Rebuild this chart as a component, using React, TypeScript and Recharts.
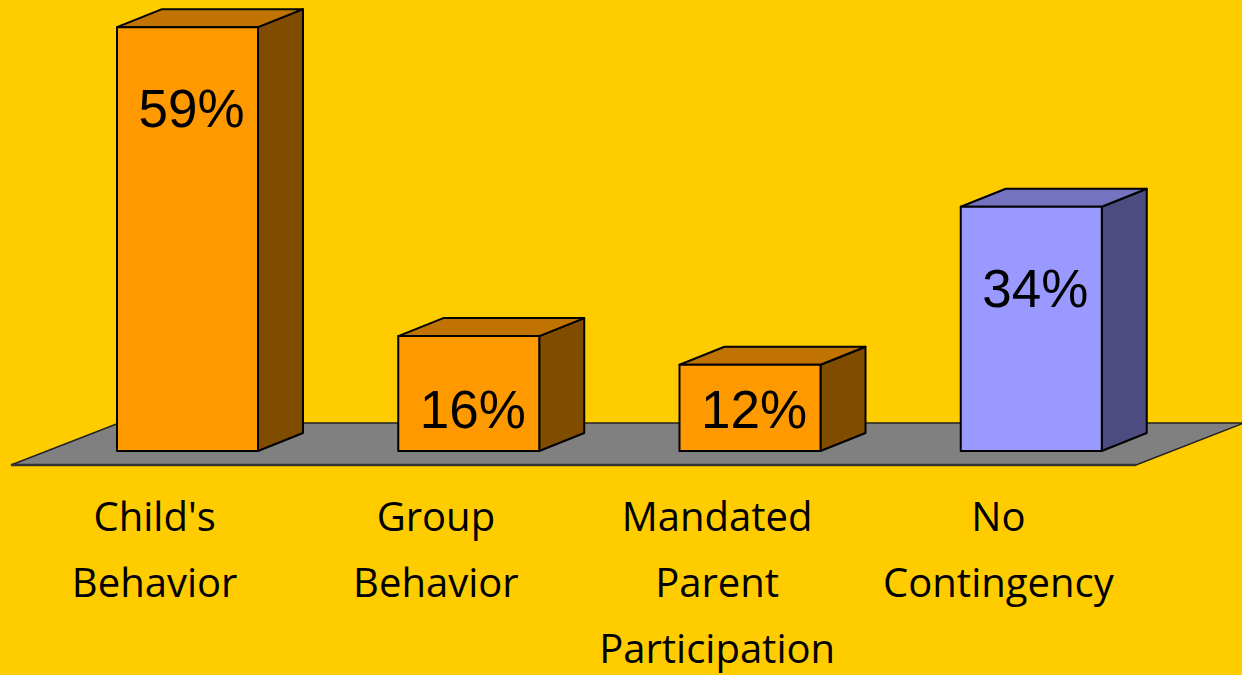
import { BarChart, Bar, XAxis, YAxis, Cell, LabelList, ReferenceLine } from "recharts"

const categories = ["Child's Behavior", "Group Behavior", "Mandated Parent Participation", "No Contingency"]
const percents = [59, 16, 12, 34]
const groups = ["tied", "tied", "tied", "none"]

const FACE: Record<string, { front: string; side: string; top: string }> = {
  tied: { front: "#FF9900", side: "#804C00", top: "#C07300" },
  none: { front: "#9999FF", side: "#4C4C80", top: "#7373BF" },
}

const DX = 45
const DY = 18

const chartData = categories.map((name, i) => ({ name, value: percents[i], group: groups[i] }))

function Box(props: any) {
  const { x, y, width: w, height: h, payload } = props
  const c = FACE[payload.group]
  const s = { stroke: "#000", strokeWidth: 2, strokeLinejoin: "round" as const }
  return (
    <g>
      <polygon
        points={`${x + w},${y} ${x + w + DX},${y - DY} ${x + w + DX},${y + h - DY} ${x + w},${y + h}`}
        fill={c.side} {...s}
      />
      <polygon
        points={`${x},${y} ${x + DX},${y - DY} ${x + w + DX},${y - DY} ${x + w},${y}`}
        fill={c.top} {...s}
      />
      <rect x={x} y={y} width={w} height={h} fill={c.front} {...s} />
    </g>
  )
}

function Floor(props: any) {
  const { x1, x2, y1 } = props
  const y = y1
  const pts = `${x1 - 36},${y + 14} ${x2 - 36},${y + 14} ${x2 + 72},${y - 28} ${x1 + 72},${y - 28}`
  return (
    <g>
      <polygon points={pts} fill="#808080" stroke="#222" strokeWidth={1.5} />
      <line x1={x1 - 36} y1={y + 14} x2={x2 - 36} y2={y + 14} stroke="#333" strokeWidth={2.5} />
    </g>
  )
}

function ValueLabel(props: any) {
  const { x, y, width, height, value } = props
  const base = Math.min(y + 100, y + height - 23)
  return (
    <text
      x={x + width / 2 + 4} y={base} textAnchor="middle"
      fontFamily="'Liberation Sans', Arial, sans-serif" fontSize={53} fill="#000"
    >
      {value}%
    </text>
  )
}

function CategoryTick(props: any) {
  const { x, y, payload } = props
  const lines = String(payload.value).split(" ")
  return (
    <text
      x={x - 33} y={y + 72} textAnchor="middle"
      fontFamily="'Comic Sans MS', 'Open Sans', sans-serif" fontSize={40} fill="#000"
    >
      {lines.map((l, i) => (
        <tspan key={i} x={x - 33} dy={i === 0 ? 0 : 66}>{l}</tspan>
      ))}
    </text>
  )
}

export default function App() {
  return (
    <div style={{ position: "fixed", left: 0, top: 0, width: 1242, height: 675, background: "#FFCC00" }}>
      <BarChart
        width={1242} height={675} data={chartData}
        margin={{ top: 20, right: 70, left: 47, bottom: 124 }}
        barSize={141}
      >
        <XAxis
          dataKey="name" height={100} axisLine={false} tickLine={false}
          interval={0} tick={<CategoryTick />}
        />
        <YAxis hide domain={[0, 60]} />
        <ReferenceLine y={0} shape={<Floor />} {...({ zIndex: -50 } as any)} />
        <Bar dataKey="value" shape={<Box />} isAnimationActive={false}>
          {chartData.map((d, i) => (
            <Cell key={i} fill={FACE[d.group].front} />
          ))}
          <LabelList dataKey="value" content={<ValueLabel />} />
        </Bar>
      </BarChart>
    </div>
  )
}
